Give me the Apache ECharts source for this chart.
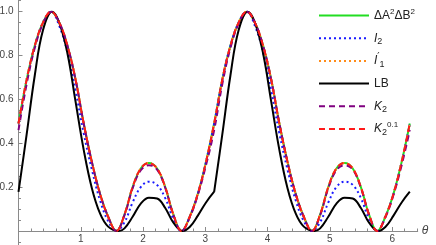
<!DOCTYPE html>
<html><head><meta charset="utf-8">
<script src="https://cdn.jsdelivr.net/npm/echarts@6/dist/echarts.min.js"></script>
<style>html,body{margin:0;padding:0;background:#fff}#c{width:436px;height:245px}</style>
</head><body><div id="c"></div>
<script>
// θ sample points (k·π/24, k = 0..48)
const theta = [0,0.1309,0.2618,0.3927,0.5236,0.6545,0.7854,0.9163,1.0472,1.1781,1.309,1.4399,1.5708,1.7017,1.8326,1.9635,2.0944,2.2253,2.3562,2.4871,2.618,2.7489,2.8798,3.0107,3.1416,
  3.2725,3.4034,3.5343,3.6652,3.7961,3.927,4.0579,4.1888,4.3197,4.4506,4.5815,4.7124,4.8433,4.9742,5.1051,5.236,5.3669,5.4978,5.6287,5.7596,5.8905,6.0214,6.1523,6.2832];

// ΔA²ΔB²
const dAB = [0.49,0.69,0.845,0.95,1.0,0.95,0.845,0.69,0.49,0.315,0.17,0.065,0,0.075,0.2,0.285,0.31,0.285,0.2,0.075,0,0.065,0.17,0.315,0.49,
  0.69,0.845,0.95,1.0,0.95,0.845,0.69,0.49,0.315,0.17,0.065,0,0.075,0.2,0.285,0.31,0.285,0.2,0.075,0,0.065,0.17,0.315,0.49];
// I2
const I2 = [0.49,0.69,0.845,0.95,1.0,0.935,0.815,0.64,0.445,0.28,0.14,0.045,0,0.04,0.13,0.2,0.225,0.21,0.15,0.055,0,0.065,0.17,0.315,0.49,
  0.69,0.845,0.95,1.0,0.935,0.815,0.64,0.445,0.28,0.14,0.045,0,0.04,0.13,0.2,0.225,0.21,0.15,0.055,0,0.065,0.17,0.315,0.49];
// I'1
const I1p = [0.49,0.69,0.845,0.95,1.0,0.95,0.845,0.69,0.49,0.315,0.17,0.065,0,0.075,0.2,0.285,0.31,0.285,0.2,0.075,0,0.065,0.17,0.315,0.49,
  0.69,0.845,0.95,1.0,0.95,0.845,0.69,0.49,0.315,0.17,0.065,0,0.075,0.2,0.285,0.31,0.285,0.2,0.075,0,0.065,0.17,0.315,0.49];
// K2
const K2 = [0.46,0.67,0.835,0.945,1.0,0.95,0.845,0.69,0.49,0.315,0.17,0.065,0,0.072,0.195,0.277,0.3,0.28,0.197,0.074,0,0.062,0.165,0.3,0.46,
  0.67,0.835,0.945,1.0,0.95,0.845,0.69,0.49,0.315,0.17,0.065,0,0.072,0.195,0.277,0.3,0.28,0.197,0.074,0,0.062,0.165,0.3,0.46];
// K2^0.1
const K2p = [0.49,0.69,0.845,0.95,1.0,0.95,0.845,0.69,0.49,0.315,0.17,0.065,0,0.075,0.2,0.285,0.31,0.285,0.2,0.075,0,0.065,0.17,0.315,0.49,
  0.69,0.845,0.95,1.0,0.95,0.845,0.69,0.49,0.315,0.17,0.065,0,0.075,0.2,0.285,0.31,0.285,0.2,0.075,0,0.065,0.17,0.315,0.49];

// LB (kinked at θ = π), two branches
const lbTheta1 = [0,0.1309,0.2618,0.3927,0.54,0.6545,0.7854,0.9163,1.0472,1.1781,1.309,1.4399,1.61,1.7017,1.8326,1.9635,2.0944,2.2253,2.3562,2.4871,2.635,2.7489,2.8798,3.0107,3.1416];
const lbVal1   = [0.178,0.44,0.71,0.915,1.0,0.95,0.81,0.59,0.37,0.195,0.08,0.02,0,0.012,0.065,0.125,0.152,0.148,0.105,0.038,0,0.018,0.07,0.13,0.179];
const lbTheta2 = [3.1416,3.2725,3.4034,3.5343,3.6816,3.7961,3.927,4.0579,4.1888,4.3197,4.4506,4.5815,4.7516,4.8433,4.9742,5.1051,5.236,5.3669,5.4978,5.6287,5.7766,5.8905,6.0214,6.1523,6.2832];
const lbVal2   = [0.178,0.44,0.71,0.915,1.0,0.95,0.81,0.59,0.37,0.195,0.08,0.02,0,0.012,0.065,0.125,0.152,0.148,0.105,0.038,0,0.018,0.07,0.13,0.179];

const xTickLabels = [1,2,3,4,5,6];
const yTickLabels = [0.2,0.4,0.6,0.8,1.0];

const pair = (xs, ys) => xs.map((x, i) => [x, ys[i]]);
const xMinor = []; for (let i = 1; i <= 32; i++) { const v = +(i * 0.2).toFixed(2); if (Math.abs(v - Math.round(v)) > 1e-6) xMinor.push(v); }
const yMinor = []; for (let i = -1; i <= 21; i++) { const v = +(i * 0.05).toFixed(2); if (Math.abs(v / 0.2 - Math.round(v / 0.2)) > 1e-6) yMinor.push(v); }

const FONT = 'Liberation Sans';
const AX = '#8a8a8a';
const LBL = '#444';
const YMAX = 1.053, YMIN_EXT = -0.064;

const names = ['dAB', 'I2', 'I1p', 'LB', 'K2', 'K2p'];
const legendText = {
  dAB: 'ΔA{sup|2}ΔB{sup|2}',
  I2: '{it|I}{sub|2}',
  I1p: '{it|I}{pr|′}{sub|1}',
  LB: 'LB',
  K2: '{it|K}{sub|2}',
  K2p: '{it|K}{sub|2}{sup|0.1}'
};

function line(name, data, color, type, z) {
  return { name, type: 'line', data, symbol: 'none', smooth: 0.4, z, xAxisIndex: 0, yAxisIndex: 0,
    lineStyle: { color, width: 2, type, cap: 'butt' }, itemStyle: { color }, emphasis: { disabled: true } };
}

const chart = echarts.init(document.getElementById('c'), null, { renderer: 'canvas' });
chart.setOption({
  animation: false,
  backgroundColor: '#fff',
  grid: [
    { left: 18.5, right: 18.3, top: 0, bottom: 14, containLabel: false, outerBoundsMode: 'none' },
    { left: 18.5, right: 18.3, top: 0, bottom: 0, containLabel: false, outerBoundsMode: 'none' }
  ],
  xAxis: [{
    gridIndex: 0, type: 'value', min: 0, max: 6.41, position: 'bottom',
    axisLine: { show: true, onZero: false, lineStyle: { color: AX, width: 1 } },
    axisTick: { show: true, inside: true, length: 4, customValues: [0].concat(xTickLabels), lineStyle: { color: AX } },
    axisLabel: { show: true, customValues: xTickLabels, margin: 3, fontSize: 10, color: LBL, fontFamily: FONT },
    splitLine: { show: false },
    name: 'θ', nameLocation: 'end', nameGap: 4,
    nameTextStyle: { fontStyle: 'italic', fontSize: 12, color: LBL, fontFamily: FONT, verticalAlign: 'middle' }
  }, {
    gridIndex: 0, type: 'value', min: 0, max: 6.41, position: 'bottom',
    axisLine: { show: false, onZero: false },
    axisTick: { show: true, inside: true, length: 2.5, customValues: xMinor, lineStyle: { color: AX } },
    axisLabel: { show: false }, splitLine: { show: false }
  }, {
    gridIndex: 1, type: 'value', min: 0, max: 6.41, show: false
  }],
  yAxis: [{
    gridIndex: 0, type: 'value', min: 0, max: YMAX, show: false
  }, {
    gridIndex: 1, type: 'value', min: YMIN_EXT, max: YMAX, position: 'left',
    axisLine: { show: true, onZero: false, lineStyle: { color: AX, width: 1 } },
    axisTick: { show: true, inside: true, length: 4, customValues: [0].concat(yTickLabels), lineStyle: { color: AX } },
    axisLabel: { show: true, customValues: yTickLabels, margin: 5, fontSize: 10, color: LBL, fontFamily: FONT,
      formatter: v => v.toFixed(1) },
    splitLine: { show: false }
  }, {
    gridIndex: 1, type: 'value', min: YMIN_EXT, max: YMAX, position: 'left',
    axisLine: { show: false, onZero: false },
    axisTick: { show: true, inside: true, length: 2.5, customValues: yMinor, lineStyle: { color: AX } },
    axisLabel: { show: false }, splitLine: { show: false }
  }],
  legend: {
    orient: 'vertical', left: 318, top: 7.5, padding: 0, itemWidth: 50, itemHeight: 14, itemGap: 6.7,
    data: names, selectedMode: false,
    itemStyle: { opacity: 0 },
    formatter: n => legendText[n],
    textStyle: { color: '#222', fontSize: 12, fontFamily: FONT, lineHeight: 16,
      rich: {
        it: { fontStyle: 'italic', fontSize: 12, fontFamily: FONT, color: '#222', lineHeight: 16 },
        pr: { fontSize: 10, fontFamily: 'DejaVu Sans', color: '#222', verticalAlign: 'top', lineHeight: 16 },
        sub: { fontSize: 9, fontFamily: FONT, color: '#222', verticalAlign: 'bottom', lineHeight: 16 },
        sup: { fontSize: 8, fontFamily: FONT, color: '#222', verticalAlign: 'top', lineHeight: 16 }
      } }
  },
  series: [
    line('dAB', pair(theta, dAB), '#22dd22', 'solid', 1),
    line('I2', pair(theta, I2), '#1a1aff', [2, 3], 2),
    line('I1p', pair(theta, I1p), '#ff8c1a', [2, 3], 3),
    line('LB', pair(lbTheta1, lbVal1), '#000000', 'solid', 4),
    line('LB', pair(lbTheta2, lbVal2), '#000000', 'solid', 4),
    line('K2', pair(theta, K2), '#800080', [6, 4], 5),
    line('K2p', pair(theta, K2p), '#ff1a1a', [6, 4], 6)
  ]
});
</script></body></html>
